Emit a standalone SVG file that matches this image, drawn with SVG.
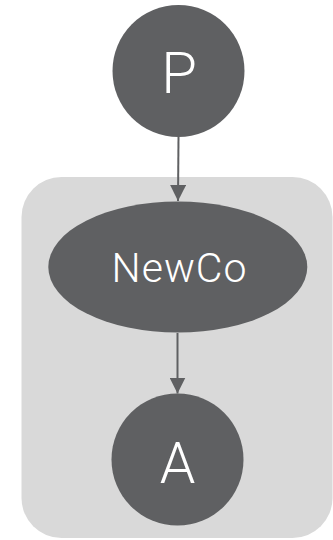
<svg xmlns="http://www.w3.org/2000/svg" width="333" height="540" viewBox="0 0 333 540">
<style>
.node{fill:#5f6062}
.lbl{fill:#ffffff;font-family:Roboto,"Liberation Sans",Arial,sans-serif;font-weight:300;text-anchor:middle}
.edge{stroke:#5f6062;stroke-width:2;fill:none}
</style>
<defs>
<marker id="arr" markerWidth="16" markerHeight="16" viewBox="0 0 16 16" refX="16" refY="8" orient="auto" markerUnits="userSpaceOnUse">
<path d="M0,0 L16,8 L0,16 z" fill="#5f6062"/>
</marker>
</defs>
<rect id="cluster" x="21.5" y="177" width="311" height="361" rx="40" ry="40" fill="#d9d9d9"/>
<g id="edges">
<line class="edge" x1="178.5" y1="137" x2="178" y2="201" marker-end="url(#arr)"/>
<line class="edge" x1="177.5" y1="333" x2="177.5" y2="393.5" marker-end="url(#arr)"/>
</g>
<g id="P">
<circle class="node" cx="178.5" cy="71" r="66"/>
<text class="lbl" x="179" y="93" font-size="58">P</text>
</g>
<g id="NewCo">
<ellipse class="node" cx="177.8" cy="267" rx="129.5" ry="65.5"/>
<text class="lbl" x="179.5" y="282" font-size="41" letter-spacing="1">NewCo</text>
</g>
<g id="A">
<circle class="node" cx="177.5" cy="459.5" r="66"/>
<text class="lbl" x="177.5" y="482.5" font-size="57">A</text>
</g>
</svg>
